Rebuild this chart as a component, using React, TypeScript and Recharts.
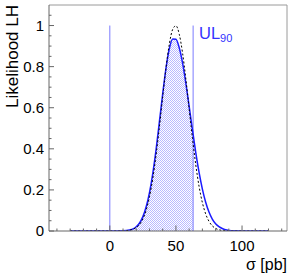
import React from 'react';
import { ComposedChart, Line, Area, XAxis, YAxis, ReferenceLine } from 'recharts';

const sigmaValues = [-30, -20, -10, 0, 5, 10, 12.5, 15, 17.5, 20, 22.5, 25, 27.5, 30, 32.5, 35, 37.5, 40, 42.5, 45, 47.5, 50, 52.5, 55, 57.5, 60, 62.5, 63, 65, 67.5, 70, 72.5, 75, 77.5, 80, 82.5, 85, 87.5, 90, 92.5, 95, 100, 110, 120];
const likelihood = [0, 0, 0, 0, 0, 0.0008, 0.002, 0.005, 0.010, 0.021, 0.039, 0.070, 0.118, 0.187, 0.281, 0.398, 0.532, 0.669, 0.793, 0.887, 0.935, 0.933, 0.892, 0.818, 0.719, 0.607, 0.492, 0.470, 0.382, 0.285, 0.204, 0.140, 0.092, 0.058, 0.035, 0.021, 0.012, 0.006, 0.003, 0.0016, 0.0007, 0, 0, 0];
const gaussRef = [0, 0, 0, 0, 0, 0.0006, 0.0016, 0.004, 0.008, 0.017, 0.032, 0.059, 0.102, 0.167, 0.256, 0.371, 0.507, 0.654, 0.794, 0.909, 0.981, 0.999, 0.958, 0.867, 0.740, 0.595, 0.451, 0.424, 0.322, 0.217, 0.138, 0.083, 0.047, 0.025, 0.0125, 0.006, 0.0026, 0.001, 0.0004, 0, 0, 0, 0, 0];
const upperLimit = 63;
const xTicks = [-40, -30, -20, -10, 0, 10, 20, 30, 40, 50, 60, 70, 80, 90, 100, 110, 120, 130];
const xLabelTicks = [0, 50, 100];
const yTicks = [0, 0.05, 0.1, 0.15, 0.2, 0.25, 0.3, 0.35, 0.4, 0.45, 0.5, 0.55, 0.6, 0.65, 0.7, 0.75, 0.8, 0.85, 0.9, 0.95, 1, 1.05, 1.1];

const data = sigmaValues.map((s, i) => ({
  s,
  lh: likelihood[i],
  g: gaussRef[i],
  band: s >= 0 && s <= upperLimit ? likelihood[i] : null,
}));

const FONT = '"Liberation Sans", Arial, Helvetica, sans-serif';

const YTick = (props: any) => {
  const { x, y, payload } = props;
  const v = payload.value;
  const major = Math.round(v * 100) % 20 === 0;
  if (v > 1.08) return null;
  return (
    <g>
      <line x1={x} y1={y} x2={x + (major ? 5 : 2.5)} y2={y} stroke="#666" strokeWidth={1} />
      {major && (
        <text x={x - 5} y={y} dy="0.36em" textAnchor="end" fontSize={15} fontFamily={FONT} fill="#000">
          {String(Math.round(v * 10) / 10)}
        </text>
      )}
    </g>
  );
};

const XTick = (props: any) => {
  const { x, y, payload } = props;
  const v = payload.value;
  const major = v % 50 === 0;
  return (
    <g>
      <line x1={x} y1={y} x2={x} y2={y - (major ? 5.5 : 2.5)} stroke="#666" strokeWidth={1} />
      {xLabelTicks.includes(v) && (
        <text x={x} y={y + 20} textAnchor="middle" fontSize={15} fontFamily={FONT} fill="#000">
          {String(v)}
        </text>
      )}
    </g>
  );
};

export default function App() {
  return (
    <div style={{ position: 'absolute', left: 0, top: 0, width: 293, height: 279, background: '#fff' }}>
      <ComposedChart width={293} height={279} data={data} margin={{ top: 5, right: 6, left: 0, bottom: 0 }}>
        <defs>
          <pattern id="hatch" width="2" height="2" patternUnits="userSpaceOnUse">
            <rect width="2" height="2" fill="#ffffff" />
            <rect width="1" height="1" fill="#b9b9ff" />
            <rect x="1" y="1" width="1" height="1" fill="#b9b9ff" />
          </pattern>
        </defs>
        <XAxis
          dataKey="s"
          type="number"
          domain={[-46, 134]}
          ticks={xTicks}
          interval={0}
          allowDataOverflow
          height={48}
          tickSize={0}
          tickMargin={0}
          tickLine={false}
          axisLine={{ stroke: '#666' }}
          tick={<XTick />}
        />
        <YAxis
          type="number"
          domain={[0, 1.1]}
          ticks={yTicks}
          interval={0}
          allowDataOverflow
          width={49}
          tickSize={0}
          tickMargin={0}
          tickLine={false}
          axisLine={{ stroke: '#666' }}
          tick={<YTick />}
        />
        <ReferenceLine y={1.1} stroke="#9a9a9a" strokeWidth={1} />
        <ReferenceLine x={134} stroke="#9a9a9a" strokeWidth={1} />
        <Area
          dataKey="band"
          type="monotone"
          fill="url(#hatch)"
          fillOpacity={1}
          stroke="none"
          connectNulls={false}
          isAnimationActive={false}
          dot={false}
          activeDot={false}
        />
        <ReferenceLine segment={[{ x: 0, y: 0 }, { x: 0, y: 1 }]} stroke="#7b7bff" strokeWidth={1} />
        <ReferenceLine segment={[{ x: upperLimit, y: 0 }, { x: upperLimit, y: 1 }]} stroke="#7b7bff" strokeWidth={1} />
        <Line dataKey="lh" type="monotone" stroke="#1a1aff" strokeWidth={1.5} dot={false} activeDot={false} isAnimationActive={false} />
        <Line dataKey="g" type="monotone" stroke="#000" strokeWidth={1} strokeDasharray="2 2" dot={false} activeDot={false} isAnimationActive={false} />
      </ComposedChart>
      <svg width={293} height={279} style={{ position: 'absolute', left: 0, top: 0, pointerEvents: 'none' }}>
        <text
          transform="translate(18,5) rotate(-90)"
          textAnchor="end"
          fontSize={17}
          fontFamily={FONT}
          fill="#000"
        >
          Likelihood LH
        </text>
        <text x={287} y={270} textAnchor="end" fontSize={16} fontFamily={FONT} fill="#000">
          σ [pb]
        </text>
        <text x={199} y={39} fontSize={16.5} fontFamily={FONT} fill="#3333ff">
          UL<tspan fontSize={11} dy={3}>90</tspan>
        </text>
      </svg>
    </div>
  );
}
